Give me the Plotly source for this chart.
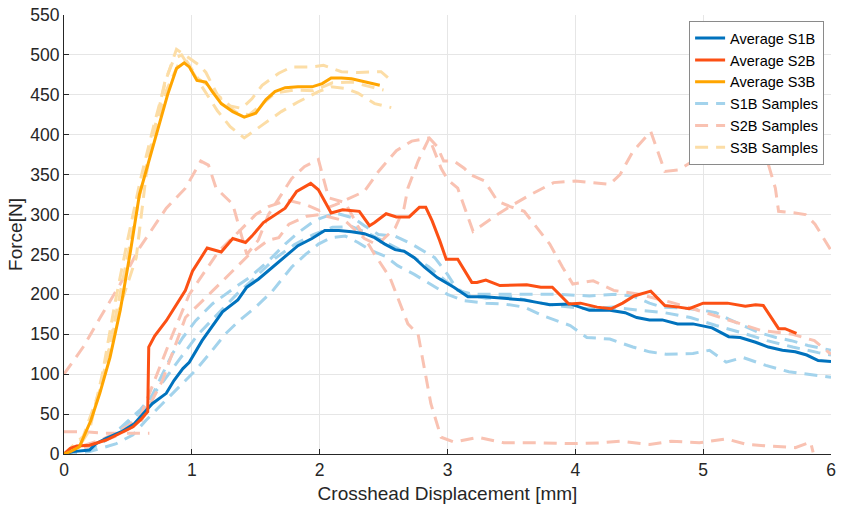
import plotly.graph_objects as go

# ---------------- data ----------------
# Average curves
s1b_avg_x = [0, 0.07, 0.2, 0.25, 0.33, 0.45, 0.55, 0.62, 0.69, 0.8, 0.86, 0.93, 0.98, 1.08, 1.14, 1.24, 1.36, 1.43, 1.52, 1.63, 1.73, 1.83, 1.94, 2.04, 2.15, 2.25, 2.35, 2.43, 2.51, 2.59, 2.66, 2.74, 2.82, 2.92, 3.05, 3.16, 3.29, 3.39, 3.6, 3.7, 3.8, 3.96, 4.11, 4.27, 4.39, 4.48, 4.58, 4.68, 4.8, 4.92, 5.07, 5.2, 5.29, 5.41, 5.51, 5.62, 5.72, 5.81, 5.9, 6.0]
s1b_avg_y = [0, 3, 5, 13, 19.5, 28, 38, 50, 63, 76, 92, 107, 115, 142, 156, 178, 193, 209, 219, 234, 248, 261, 270, 280, 280, 278.5, 276, 271, 263, 256, 254, 246, 234, 221, 209, 197, 197, 196, 193, 190, 187, 188, 180, 180, 177, 171, 168, 168, 163, 163, 158, 147, 146, 140, 134, 130, 128, 124, 117, 116]

s2b_avg_x = [0, 0.05, 0.1, 0.2, 0.28, 0.33, 0.44, 0.54, 0.6, 0.655, 0.663, 0.71, 0.8, 0.89, 0.95, 1.005, 1.12, 1.23, 1.32, 1.42, 1.47, 1.56, 1.65, 1.73, 1.82, 1.89, 1.93, 1.99, 2.04, 2.09, 2.18, 2.25, 2.31, 2.39, 2.43, 2.52, 2.6, 2.7, 2.78, 2.83, 2.88, 2.94, 2.99, 3.08, 3.14, 3.19, 3.23, 3.3, 3.41, 3.62, 3.73, 3.82, 3.95, 4.04, 4.17, 4.28, 4.37, 4.46, 4.59, 4.7, 4.81, 4.89, 5.0, 5.19, 5.33, 5.41, 5.47, 5.59, 5.64, 5.73]
s2b_avg_y = [0, 7, 10, 11, 15, 17.5, 26, 34, 43, 53, 134, 148, 167, 190, 205, 229, 258, 253, 270, 265, 273, 290, 300, 308, 329, 335, 339, 331, 317, 302, 306, 305, 304, 286, 290, 301, 297, 297, 309, 309, 292, 267, 244, 244, 229, 215, 215, 218, 211, 212, 209, 209, 188, 189, 184, 182, 189, 198, 204, 186, 184, 182, 189, 189, 185, 187, 186, 157, 157, 151]

s3b_avg_x = [0, 0.05, 0.12, 0.21, 0.28, 0.36, 0.44, 0.52, 0.59, 0.67, 0.75, 0.81, 0.88, 0.94, 0.98, 1.04, 1.11, 1.16, 1.23, 1.32, 1.41, 1.5, 1.58, 1.65, 1.73, 1.83, 1.94, 2.02, 2.09, 2.17, 2.25, 2.35, 2.47]
s3b_avg_y = [0, 3, 9, 42, 76, 121, 180, 254, 325, 371, 416, 450, 483, 490, 485, 468, 466, 454, 439, 429, 422, 427, 444, 454, 459, 460, 460, 464, 471, 471, 470, 466, 462]

# S1B samples
s1b_a_x = [0, 0.2, 0.4, 0.54, 0.65, 0.77, 0.85, 0.93, 1.03, 1.16, 1.26, 1.34, 1.45, 1.6, 1.73, 1.83, 1.94, 2.0, 2.12, 2.26, 2.35, 2.46, 2.59, 2.72, 2.9, 3.0, 3.08, 3.2, 3.29, 3.54, 3.86, 4.11, 4.32, 4.45, 4.58, 4.68, 4.84, 5.0, 5.1, 5.2, 5.31, 5.44, 5.57, 5.69, 5.82, 6.0]
s1b_a_y = [0, 5, 25, 45, 60, 100, 126, 146, 167, 188, 200, 209, 221, 242, 263, 277, 290, 295, 302, 296, 286, 275, 273, 263, 246, 225, 205, 200, 200, 200, 200, 198, 200, 198, 189, 184, 183, 180, 177, 169, 161, 152, 146, 142, 136, 130]
s1b_b_x = [0, 0.2, 0.41, 0.54, 0.64, 0.77, 0.9, 1.03, 1.14, 1.26, 1.37, 1.5, 1.63, 1.78, 1.89, 1.99, 2.09, 2.2, 2.3, 2.4, 2.51, 2.61, 2.74, 2.87, 3.0, 3.13, 3.3, 3.44, 3.6, 3.75, 3.96, 4.09, 4.27, 4.45, 4.58, 4.71, 4.92, 5.05, 5.18, 5.31, 5.49, 5.67, 6.0]
s1b_b_y = [0, 3, 13, 24, 42, 63, 84, 105, 126, 150, 167, 184, 204, 234, 250, 263, 271, 273, 265, 255, 248, 236, 225, 213, 200, 192, 189, 188, 184, 173, 161, 146, 144, 134, 128, 125, 126, 130, 115, 121, 111, 103, 96]
s1b_c_x = [0, 0.15, 0.3, 0.45, 0.6, 0.75, 0.9, 1.05, 1.2, 1.35, 1.5, 1.65, 1.8, 1.95, 2.1, 2.25, 2.4, 2.55, 2.7, 2.85, 3.0, 3.15, 3.3, 3.5, 3.7, 3.9, 4.1, 4.3, 4.5, 4.7, 4.9, 5.1, 5.3, 5.5, 5.7, 5.9, 6.0]
s1b_c_y = [0, 2, 14, 34, 56, 85, 118, 150, 175, 200, 222, 245, 262, 275, 284, 285, 275, 262, 250, 235, 215, 200, 195, 197, 190, 185, 182, 184, 180, 177, 171, 161, 152, 142, 134, 127, 124]

# S2B samples
s2b_a_x = [0, 0.15, 0.28, 0.44, 0.59, 0.8, 0.95, 1.07, 1.13, 1.19, 1.32, 1.37, 1.43, 1.52, 1.6, 1.7, 1.78, 1.88, 1.99, 2.03, 2.07, 2.2, 2.3, 2.43, 2.55, 2.69, 2.77, 2.87, 2.95, 3.05, 3.24, 3.44, 3.7, 3.97, 4.2, 4.35, 4.58, 4.75, 4.97, 5.18, 5.34, 5.5, 5.72, 5.84, 5.86]
s2b_a_y = [100, 134, 170, 213, 258, 308, 333, 367, 362, 333, 313, 285, 250, 268, 300, 325, 345, 360, 369, 345, 321, 315, 285, 250, 221, 163, 150, 63, 21, 15, 21, 14, 14, 13, 14, 16, 12, 16, 14, 19, 12, 10, 8, 15, 2]
s2b_b_x = [0, 0.15, 0.31, 0.5, 0.668]
s2b_b_y = [28, 28, 26, 26, 26]
s2b_c_x = [0, 0.1, 0.3, 0.5, 0.6, 0.668, 0.85, 0.98, 1.11, 1.21, 1.37, 1.5, 1.6, 1.75, 1.9, 2.0, 2.12, 2.2, 2.35, 2.46, 2.6, 2.72, 2.857, 2.92, 2.97, 3.05, 3.13, 3.18, 3.29, 3.39, 3.49, 3.6, 3.7, 3.8, 3.9, 3.98, 4.14, 4.3, 4.5, 4.75, 5.0, 5.2, 5.45, 5.7, 5.87, 6.0]
s2b_c_y = [0, 8, 18, 35, 48, 76, 150, 200, 230, 254, 279, 300, 310, 318, 312, 305, 312, 318, 329, 354, 380, 392, 396, 385, 367, 367, 358, 350, 342, 317, 310, 304, 283, 263, 234, 213, 217, 205, 200, 190, 178, 168, 155, 150, 142, 125]
s2b_d_x = [0, 0.2, 0.4, 0.6, 0.77, 0.95, 1.16, 1.32, 1.45, 1.6, 1.68, 1.76, 1.9, 2.0, 2.2, 2.35, 2.45, 2.59, 2.66, 2.69, 2.77, 2.857, 2.95, 3.0, 3.08, 3.2, 3.39, 3.52, 3.65, 3.83, 4.0, 4.27, 4.35, 4.45, 4.59, 4.7, 4.81, 4.92, 5.0, 5.1, 5.23, 5.36, 5.46, 5.565, 5.59, 5.72, 5.8, 5.875, 6.0]
s2b_d_y = [0, 10, 22, 40, 92, 171, 204, 230, 250, 268, 271, 288, 298, 300, 292, 270, 262, 283, 308, 333, 367, 396, 358, 344, 333, 279, 300, 313, 325, 340, 342, 338, 350, 379, 404, 354, 356, 367, 375, 376, 383, 388, 390, 333, 304, 302, 300, 288, 255]

# S3B samples
s3b_a_x = [0, 0.1, 0.2, 0.3, 0.4, 0.5, 0.6, 0.7, 0.8, 0.88, 0.97, 1.06, 1.11, 1.2, 1.3, 1.39, 1.47, 1.55, 1.68, 1.78, 1.94, 2.03, 2.17, 2.3, 2.48, 2.56]
s3b_a_y = [0, 5, 30, 100, 190, 270, 345, 410, 470, 507, 497, 487, 478, 450, 436, 433, 445, 462, 477, 485, 485, 487, 479, 478, 479, 468]
s3b_b_x = [0, 0.15, 0.28, 0.41, 0.565, 0.643, 0.72, 0.79, 0.86, 0.92, 1.0, 1.1, 1.2, 1.3, 1.41, 1.55, 1.7, 1.83, 1.99, 2.09, 2.2, 2.3, 2.43, 2.56]
s3b_b_y = [0, 22, 80, 171, 246, 350, 416, 467, 495, 500, 480, 455, 430, 410, 396, 412, 429, 441, 454, 460, 458, 452, 439, 434]
s3b_c_x = [0, 0.1, 0.2, 0.3, 0.4, 0.5, 0.6, 0.7, 0.8, 0.9, 0.96, 1.05, 1.15, 1.25, 1.35, 1.45, 1.55, 1.65, 1.8, 1.95, 2.1, 2.25, 2.4, 2.5]
s3b_c_y = [0, 8, 35, 90, 170, 250, 330, 400, 455, 490, 492, 470, 460, 440, 428, 425, 438, 452, 456, 455, 465, 466, 460, 456]

x_ticks = [0, 1, 2, 3, 4, 5, 6]
y_ticks = [0, 50, 100, 150, 200, 250, 300, 350, 400, 450, 500, 550]

# ---------------- styles ----------------
C_S1B = "#0072BD"
C_S2B = "#FC5014"
C_S3B = "#FFA500"
C_S1B_L = "#A3D3EC"
C_S2B_L = "#F9C2B2"
C_S3B_L = "#FCDDA6"
DASH = "13px,8px"
FONT = "Liberation Sans, Arial, sans-serif"

fig = go.Figure()

samples = [
    ("S1B Samples", C_S1B_L, [(s1b_a_x, s1b_a_y), (s1b_b_x, s1b_b_y), (s1b_c_x, s1b_c_y)], 4),
    ("S2B Samples", C_S2B_L, [(s2b_a_x, s2b_a_y), (s2b_b_x, s2b_b_y), (s2b_c_x, s2b_c_y), (s2b_d_x, s2b_d_y)], 5),
    ("S3B Samples", C_S3B_L, [(s3b_a_x, s3b_a_y), (s3b_b_x, s3b_b_y), (s3b_c_x, s3b_c_y)], 6),
]
for name, col, series, rank in samples:
    for i, (xs, ys) in enumerate(series):
        fig.add_trace(go.Scatter(
            x=xs, y=ys, mode="lines", name=name, legendgroup=name,
            showlegend=(i == 0), legendrank=rank,
            line=dict(color=col, width=3, dash=DASH),
        ))

avgs = [
    ("Average S1B", C_S1B, s1b_avg_x, s1b_avg_y, 1),
    ("Average S2B", C_S2B, s2b_avg_x, s2b_avg_y, 2),
    ("Average S3B", C_S3B, s3b_avg_x, s3b_avg_y, 3),
]
for name, col, xs, ys, rank in avgs:
    fig.add_trace(go.Scatter(
        x=xs, y=ys, mode="lines", name=name, legendrank=rank,
        line=dict(color=col, width=3),
    ))

axis_common = dict(
    showgrid=True, gridcolor="#E6E6E6", gridwidth=1,
    showline=True, linecolor="#262626", linewidth=1,
    ticks="inside", ticklen=5, tickcolor="#262626",
    zeroline=False, mirror=False,
    tickfont=dict(family=FONT, size=17.5, color="#262626"),
)

fig.update_layout(
    width=841, height=508,
    margin=dict(l=64, r=5, t=13, b=54),
    paper_bgcolor="white", plot_bgcolor="white",
    font=dict(family=FONT, color="#262626"),
    xaxis=dict(range=[0, 6], tickvals=x_ticks, ticktext=[str(v) for v in x_ticks],
               title=dict(text="Crosshead Displacement [mm]", font=dict(size=19, color="#262626"), standoff=7),
               **axis_common),
    yaxis=dict(range=[0, 550], tickvals=y_ticks, ticktext=[str(v) for v in y_ticks],
               title=dict(text="Force[N]", font=dict(size=19, color="#262626"), standoff=2),
               **axis_common),
    legend=dict(
        x=0.991, y=0.986, xanchor="right", yanchor="top",
        bgcolor="white", bordercolor="#8A8A8A", borderwidth=1,
        font=dict(family=FONT, size=14.5, color="#000000"),
        tracegroupgap=0, itemwidth=30,
    ),
    showlegend=True,
)

fig.write_html("out.html")
